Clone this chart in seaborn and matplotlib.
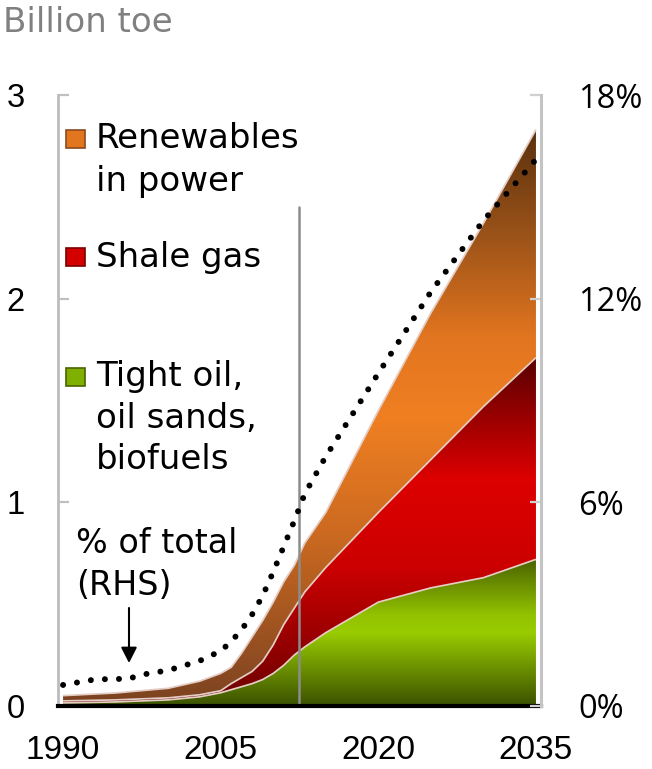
import numpy as np
import matplotlib
matplotlib.use("Agg")
import matplotlib.pyplot as plt
import seaborn as sns
from matplotlib.colors import LinearSegmentedColormap
from matplotlib.patches import Rectangle

# ---------------- data ----------------
years = [1990, 1995, 2000, 2003, 2005, 2006, 2007, 2008, 2009, 2010, 2011,
         2012, 2013, 2015, 2020, 2025, 2030, 2035]
tight_oil = [0.015, 0.02, 0.03, 0.045, 0.065, 0.08, 0.095, 0.11, 0.13, 0.16,
             0.20, 0.25, 0.29, 0.36, 0.51, 0.58, 0.63, 0.72]
shale_gas = [0.01, 0.01, 0.01, 0.01, 0.01, 0.03, 0.045, 0.06, 0.09, 0.14,
             0.20, 0.23, 0.27, 0.32, 0.44, 0.63, 0.84, 0.99]
renewables = [0.026, 0.034, 0.047, 0.067, 0.085, 0.08, 0.12, 0.17, 0.20, 0.21,
              0.21, 0.21, 0.24, 0.27, 0.50, 0.72, 0.90, 1.12]

pct_years = [1990, 1993, 1995, 1996, 1998, 2000, 2003, 2005, 2006, 2007, 2008,
             2009, 2010, 2011, 2012, 2013, 2015, 2020, 2025, 2030, 2035]
pct_total = [0.62, 0.78, 0.80, 0.79, 0.95, 1.05, 1.33, 1.62, 1.9, 2.25, 2.7,
             3.25, 3.95, 4.7, 5.45, 6.25, 7.35, 9.8, 12.2, 14.3, 16.1]

xtick_years = [1990, 2005, 2020, 2035]
left_ticks = [0, 1, 2, 3]
right_ticks = [0, 6, 12, 18]
right_labels = ["0%", "6%", "12%", "18%"]
outlook_start = 2012.45
legend_names = ["Renewables\nin power", "Shale gas", "Tight oil,\noil sands,\nbiofuels"]

# ---------------- style ----------------
sns.set_theme(style="white")
plt.rcParams["font.family"] = ["DejaVu Sans"]
plt.rcParams["text.color"] = "black"

W, H = 652, 769
fig = plt.figure(figsize=(W / 100, H / 100), dpi=100)
fx = lambda px: px / W
fy = lambda py: 1 - py / H

ax = fig.add_axes([fx(58), 63 / H, (541 - 58) / W, (706 - 95) / H])
ax.set_facecolor("none")

x = np.array(years, dtype=float)
g = np.array(tight_oil)
s = np.array(shale_gas)
r = np.array(renewables)
c1 = g
c2 = g + s
c3 = g + s + r


def grad_fill(lo, hi, stops, z):
    poly = ax.fill_between(x, lo, hi, facecolor="none", edgecolor="none", zorder=z)
    cmap = LinearSegmentedColormap.from_list("c", stops)
    grad = np.linspace(0, 1, 512).reshape(-1, 1)
    im = ax.imshow(grad, cmap=cmap, aspect="auto", origin="lower",
                   extent=[x[0], x[-1], 0, hi.max()], zorder=z,
                   interpolation="bilinear")
    im.set_clip_path(poly.get_paths()[0], transform=ax.transData)


green_stops = [(0.0, "#3b5100"), (0.5, "#99cc00"), (0.62, "#92c200"), (1.0, "#4a6300")]
red_stops = [(0.0, "#6a0000"), (0.4, "#cc0000"), (0.65, "#dd0000"), (1.0, "#580000")]
orange_stops = [(0.0, "#7a4220"), (0.06, "#8b4a22"), (0.3, "#cc6a20"), (0.5, "#f07f22"),
                (0.64, "#e27520"), (0.82, "#9a5218"), (1.0, "#5a300e")]

grad_fill(np.zeros_like(x), c1, green_stops, 1)
grad_fill(c1, c2, red_stops, 1)
grad_fill(c2, c3, orange_stops, 1)

edge = "#e4cdc4"
for top in (c1, c2, c3):
    ax.plot(x, top, color=edge, lw=1.25, zorder=3, solid_capstyle="butt")

ax.plot([outlook_start, outlook_start], [0, 2.45], color="#8c8c8c", lw=1.8, zorder=4)

ax.set_xlim(1989.52, 2035.48)
ax.set_ylim(0, 3)
ax.set_xticks(xtick_years)
ax.set_xticklabels([str(v) for v in xtick_years], fontfamily="Liberation Sans", fontsize=24)
ax.set_yticks(left_ticks)
ax.set_yticklabels([str(v) for v in left_ticks], fontfamily="Liberation Sans", fontsize=23.5)
ax.tick_params(axis="x", length=0, pad=21, colors="black")
ax.tick_params(axis="y", direction="in", length=8, width=1.6, color="#c0c0c0",
               pad=24, labelcolor="black", left=True, right=False)
for sp in ax.spines.values():
    sp.set_visible(False)
ax.spines["bottom"].set_visible(True)
ax.spines["bottom"].set_color("black")
ax.spines["bottom"].set_linewidth(3)
ax.spines["left"].set_visible(True)
ax.spines["left"].set_color("#bcbcbc")
ax.spines["left"].set_linewidth(2)
ax.spines["bottom"].set_zorder(6)

ax2 = ax.twinx()
ax2.set_ylim(0, 18)
sns.lineplot(x=pct_years, y=pct_total, ax=ax2, color="black", lw=4.3,
             linestyle=(0, (0.01, 2.35)), dash_capstyle="round", sort=True)
ax2.set_xlim(1989.52, 2035.48)
ax2.set_yticks(right_ticks)
ax2.set_yticklabels(right_labels, fontfamily="Open Sans", fontsize=23.5)
ax2.tick_params(axis="y", direction="in", length=8, width=1.6, color="#d0d0d0",
                pad=27, labelcolor="black", right=True, left=False)
for sp in ax2.spines.values():
    sp.set_visible(False)
ax2.spines["right"].set_visible(True)
ax2.spines["right"].set_color("#c4c4c4")
ax2.spines["right"].set_linewidth(2.2)
ax2.set_ylabel("")
ax2.set_xlabel("")

# ---------------- texts ----------------
fig.text(fx(3), fy(32), "Billion toe", fontsize=24.5, color="#808080", va="baseline")

tsize = 24.5
leg_colors = [("#e2761f", "#8a4a20"), ("#d40000", "#7a0000"), ("#7fb000", "#4a6300")]
leg_sq_top = [130, 248, 368]
leg_baselines = [[148, 191], [267], [386, 428, 469]]
for name, (fc, ec), sqy, bls in zip(legend_names, leg_colors, leg_sq_top, leg_baselines):
    fig.patches.append(Rectangle((fx(66), fy(sqy + 18)), 19 / W, 18 / H,
                                 transform=fig.transFigure, facecolor=fc,
                                 edgecolor=ec, lw=1.2, zorder=5))
    for line, bl in zip(name.split("\n"), bls):
        fig.text(fx(96), fy(bl), line, fontsize=tsize, va="baseline", color="black")

fig.text(fx(76), fy(553), "% of total", fontsize=24, va="baseline", color="black")
fig.text(fx(76), fy(595), "(RHS)", fontsize=24, va="baseline", color="black")
ax.annotate("", xy=(fx(129), fy(663)), xytext=(fx(129), fy(608)),
            xycoords="figure fraction", textcoords="figure fraction",
            arrowprops=dict(arrowstyle="-|>,head_length=0.47,head_width=0.24",
                            mutation_scale=20, color="black", lw=1.5,
                            shrinkA=0, shrinkB=0))

fig.savefig("out.png", dpi=100)
